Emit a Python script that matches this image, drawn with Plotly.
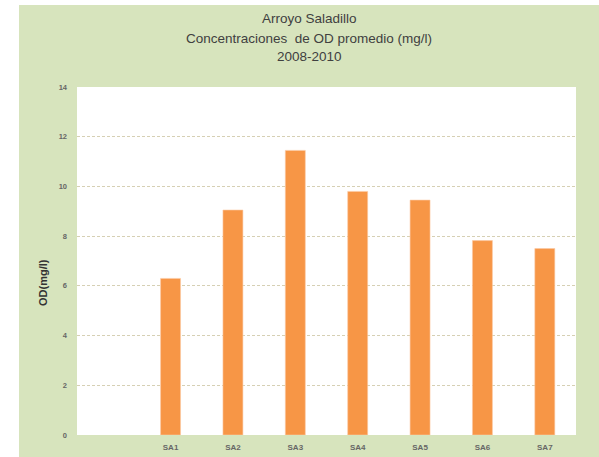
import plotly.graph_objects as go

# Mean dissolved oxygen per sampling station
stations = ["SA1", "SA2", "SA3", "SA4", "SA5", "SA6", "SA7"]
od_mean = [6.3, 9.05, 11.45, 9.8, 9.45, 7.82, 7.5]
y_ticks = [0, 2, 4, 6, 8, 10, 12, 14]

# slot 0 is left empty, stations occupy slots 1..7
positions = list(range(1, len(stations) + 1))

W, H = 599, 457
ML, MR, MT, MB = 77, 23, 87, 22
PW, PH = W - ML - MR, H - MT - MB

GREEN = "#d7e4bd"
ORANGE = "#f79646"
TEXT = "#404040"

fig = go.Figure(
    go.Bar(
        x=positions,
        y=od_mean,
        marker=dict(color=ORANGE, line=dict(color="#fbc9a4", width=0.6)),
        width=0.32,
        hoverinfo="x+y",
    )
)

px_x = lambda px: (px - ML) / PW
px_y = lambda py: (H - MB - py) / PH

shapes = [
    dict(type="rect", xref="paper", yref="paper",
         x0=px_x(19), x1=px_x(W + 2), y0=px_y(H + 2), y1=px_y(5),
         fillcolor=GREEN, line=dict(width=0), layer="below"),
    dict(type="rect", xref="paper", yref="paper",
         x0=0, x1=1, y0=0, y1=1,
         fillcolor="white", line=dict(width=0), layer="below"),
]

font_family = "Liberation Sans, Arial, sans-serif"
title_lines = ["Arroyo Saladillo", "Concentraciones  de OD promedio (mg/l)", "2008-2010"]
title_y = [19, 38, 56]
annotations = [
    dict(text=t, xref="paper", yref="paper", x=px_x(309), y=px_y(yy),
         xanchor="center", yanchor="middle", showarrow=False,
         font=dict(family=font_family, size=13.5, color=TEXT))
    for t, yy in zip(title_lines, title_y)
]
annotations.append(
    dict(text="<b>OD(mg/l)</b>", xref="paper", yref="paper",
         x=px_x(43), y=px_y(283), textangle=-90,
         xanchor="center", yanchor="middle", showarrow=False,
         font=dict(family=font_family, size=11, color="#333333"))
)

fig.update_layout(
    width=W, height=H,
    margin=dict(l=ML, r=MR, t=MT, b=MB, pad=0),
    paper_bgcolor="white",
    plot_bgcolor="white",
    showlegend=False,
    shapes=shapes,
    annotations=annotations,
    xaxis=dict(
        range=[-0.5, 7.5],
        tickmode="array",
        tickvals=positions,
        ticktext=[f"<b>{s}</b>" for s in stations],
        tickfont=dict(family=font_family, size=8, color="#666666"),
        showgrid=False, zeroline=False, showline=False,
        ticks="", ticklabelstandoff=6,
        automargin=False,
        fixedrange=True,
    ),
    yaxis=dict(
        range=[0, 14],
        tickmode="array",
        tickvals=y_ticks,
        ticktext=[f"<b>{v}</b>" for v in y_ticks],
        tickfont=dict(family=font_family, size=7.5, color="#666666"),
        showgrid=True, gridcolor="#d6d0b4", griddash="3px,2px", gridwidth=1,
        zeroline=False, showline=False,
        ticks="", ticklabelstandoff=9,
        automargin=False,
        fixedrange=True,
    ),
)

fig.write_html("out.html")
